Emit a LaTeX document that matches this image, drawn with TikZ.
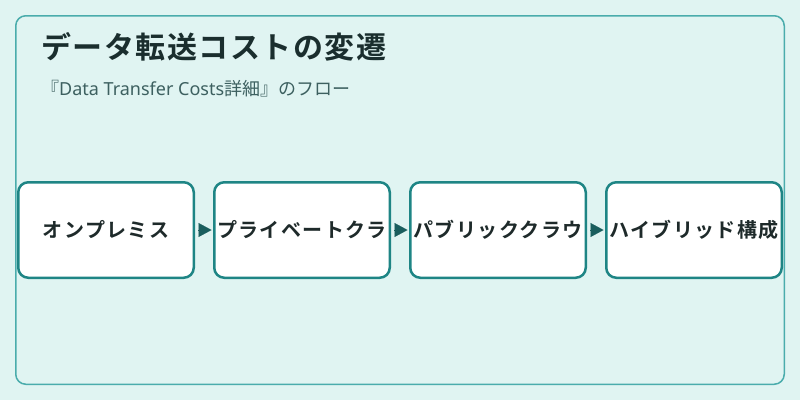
\documentclass[tikz,border=0pt]{standalone}
\usepackage{fontspec}
\usepackage{xcolor}
\usetikzlibrary{positioning,arrows.meta}
\setmainfont{Noto Sans CJK JP}[BoldFont={Noto Sans CJK JP Bold}]
\newfontfamily\latinfont{Noto Sans}
\definecolor{bgcol}{HTML}{E0F4F2}
\definecolor{framecol}{HTML}{4AACAC}
\definecolor{boxcol}{HTML}{1E8585}
\definecolor{arrcol}{HTML}{1A5E5E}
\definecolor{titlecol}{HTML}{1A2E2E}
\definecolor{subcol}{HTML}{3D6060}
\definecolor{labcol}{HTML}{1E2A2A}
\tikzset{
  flowbox/.style={draw=boxcol,fill=white,line width=2.5pt,rounded corners=10pt,
    minimum width=175.5pt,minimum height=95.5pt,inner sep=0pt,text=labcol,
    font=\addfontfeature{LetterSpace=7}\fontsize{20pt}{22pt}\selectfont\bfseries},
  flowarr/.style={draw=arrcol,line width=0.1pt,shorten <=3pt,shorten >=1.5pt,
    -{Triangle[length=13pt,width=14pt,fill=arrcol]}}
}
\newcommand{\flownode}[3]{\node[flowbox,#2] (#1) {#3};}
\newcommand{\flowedge}[2]{\draw[flowarr] (#1) -- (#2);}
\begin{document}
\begin{tikzpicture}[x=1pt,y=-1pt,node distance=18pt]
	\useasboundingbox (0,0) rectangle (800,400);
	\fill[bgcol] (0,0) rectangle (800,400);
	\draw[framecol,line width=1.5pt,rounded corners=10pt] (15.75,15.75) rectangle (784.25,384.25);
	\node[anchor=west,inner sep=0pt,text=titlecol,font=\addfontfeature{LetterSpace=5}\fontsize{30pt}{34pt}\selectfont\bfseries] (title) at (41,47) {データ転送コストの変遷};
	\node[anchor=west,inner sep=0pt,text=subcol,font=\fontsize{18pt}{21pt}\selectfont] (subtitle) at (41,89) {『{\latinfont Data Transfer Costs}詳細』のフロー};
	\flownode{onprem}{at={(106,230)}}{オンプレミス}
	\flownode{private}{right=of onprem}{プライベートクラ}
	\flownode{public}{right=of private}{パブリッククラウ}
	\flownode{hybrid}{right=of public}{ハイブリッド構成}
	\flowedge{onprem}{private} \flowedge{private}{public} \flowedge{public}{hybrid}
\end{tikzpicture}
\end{document}
